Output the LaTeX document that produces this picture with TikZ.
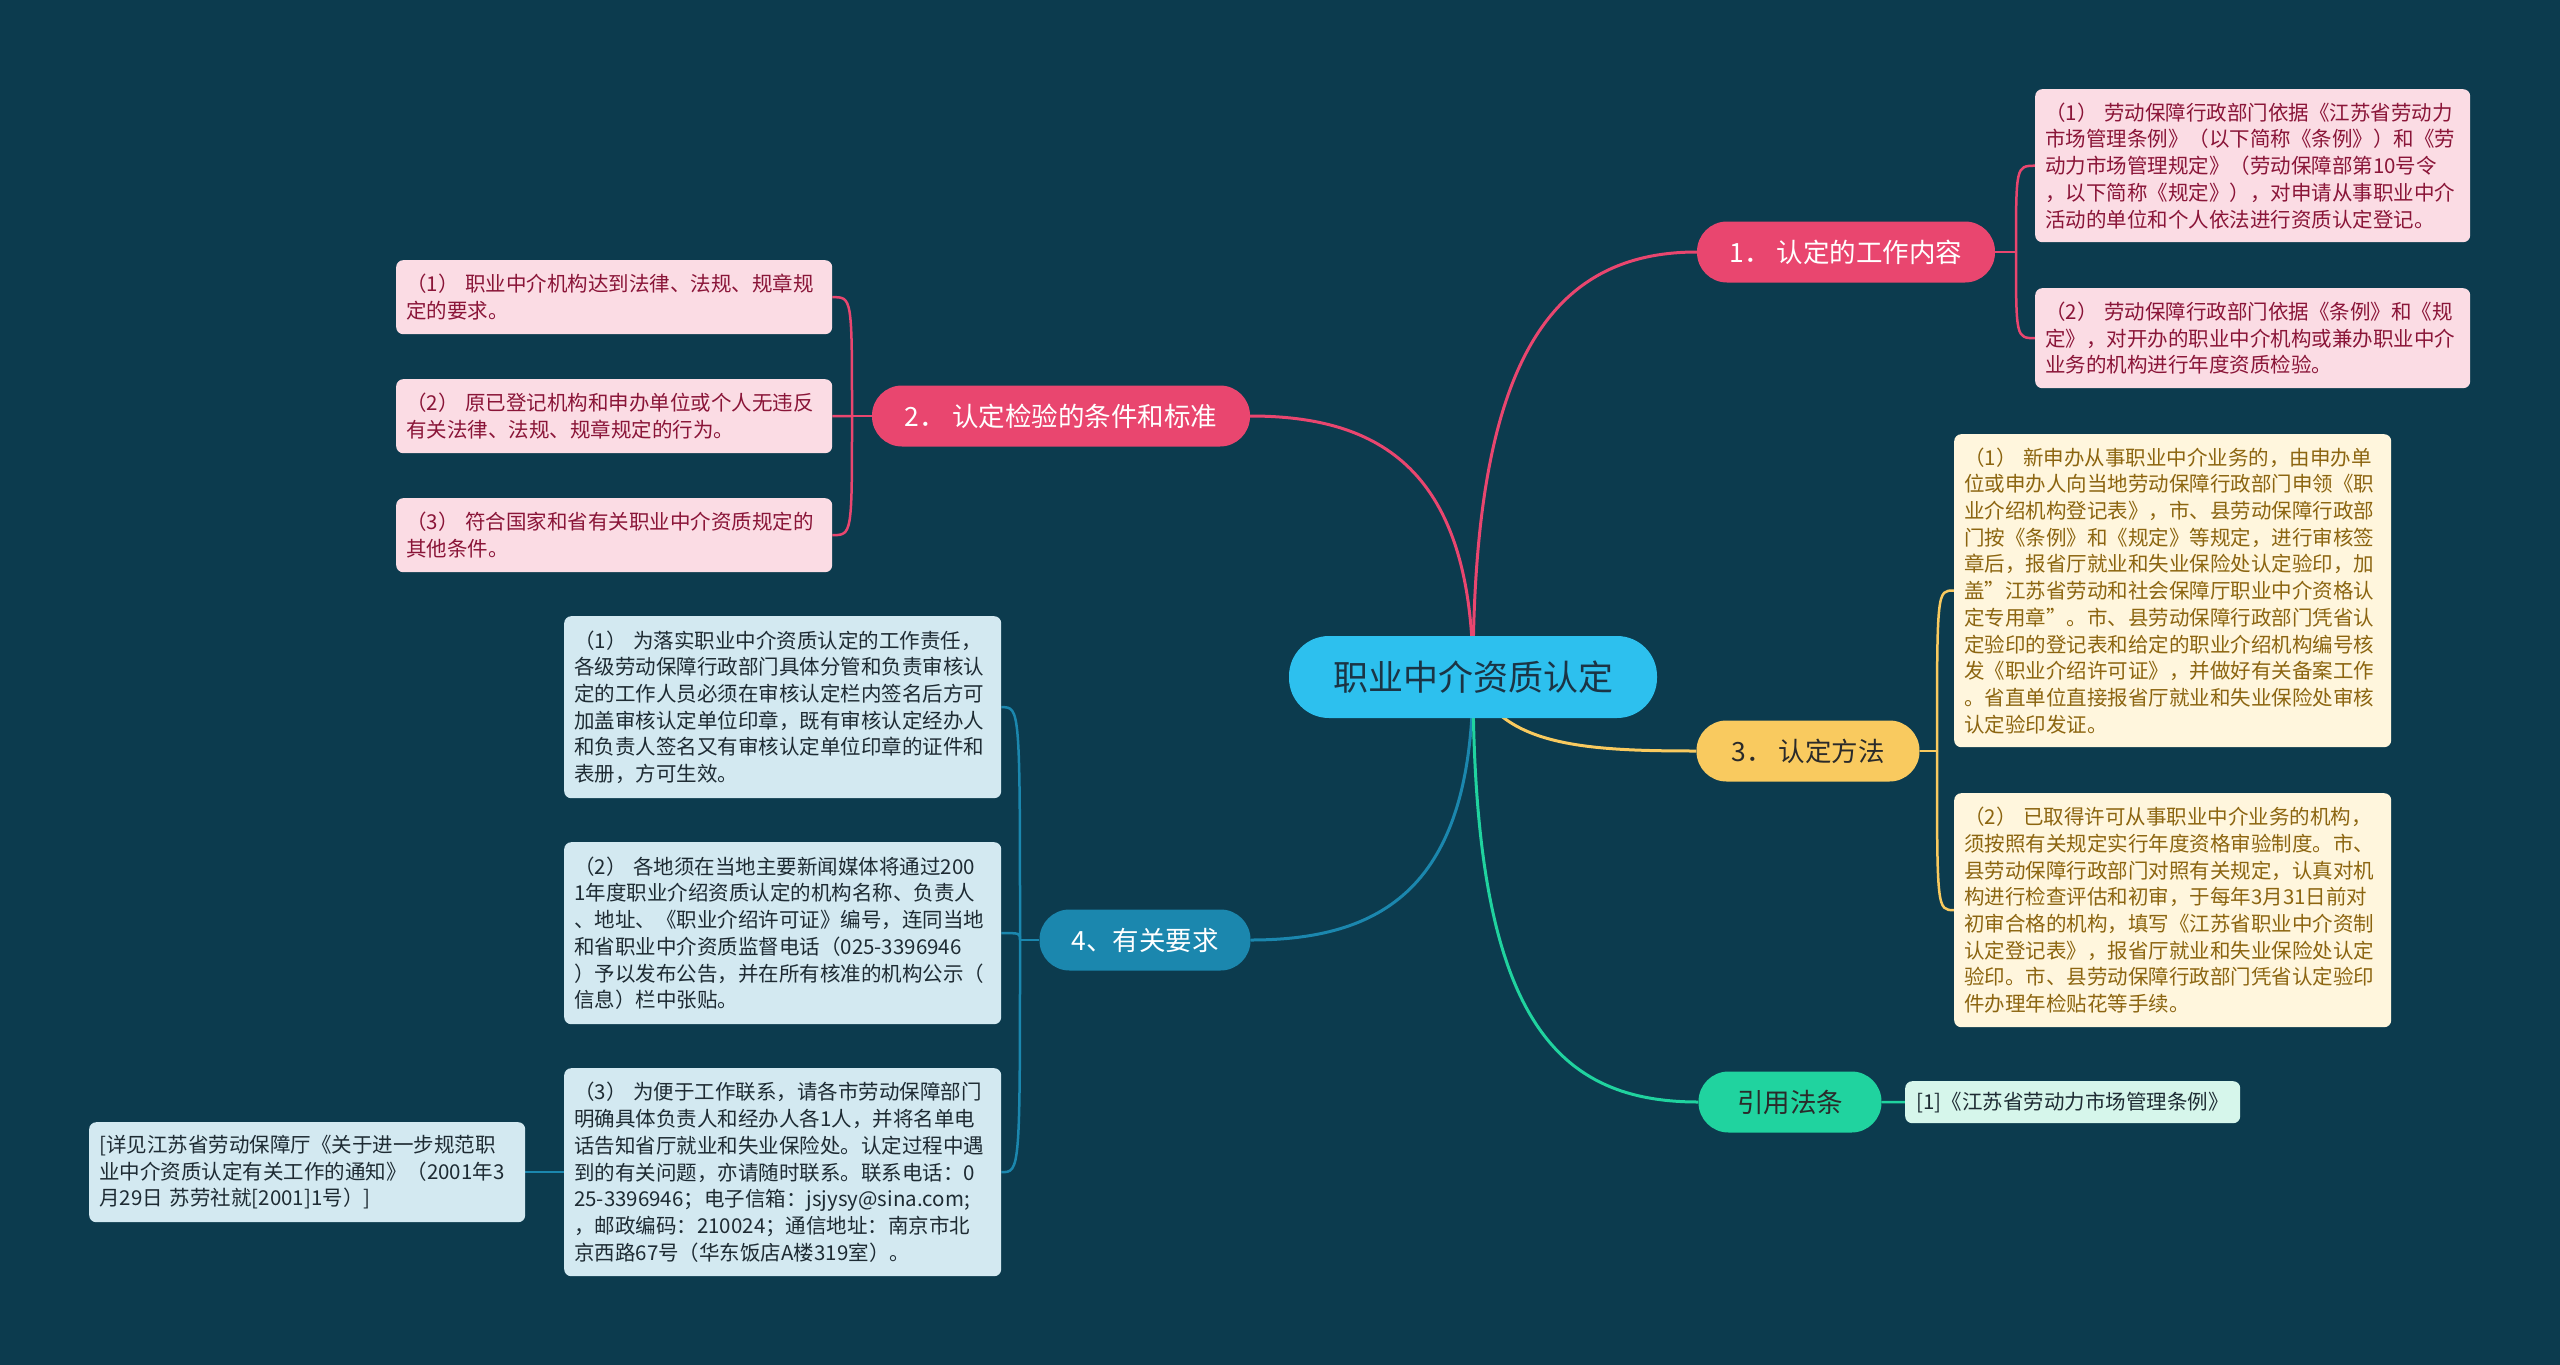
\documentclass[tikz,border=0pt]{standalone}
\usepackage{fontspec}
\setmainfont{Noto Sans CJK SC}
\definecolor{bgc}{HTML}{0C3B4E}
\definecolor{cyanc}{HTML}{2DC0EE}
\definecolor{rootText}{HTML}{1B3445}
\definecolor{redc}{HTML}{E9466F}
\definecolor{yelc}{HTML}{F9CA5F}
\definecolor{bluec}{HTML}{1B87AE}
\definecolor{greenc}{HTML}{20D39F}
\definecolor{pinkleaf}{HTML}{FBDCE4}
\definecolor{creamleaf}{HTML}{FFF6DD}
\definecolor{blueleaf}{HTML}{D3E9F1}
\definecolor{greenleaf}{HTML}{D6F6EB}
\definecolor{pinktext}{HTML}{8A1538}
\definecolor{creamtext}{HTML}{8C6510}
\definecolor{bluetext}{HTML}{1E2B33}
\definecolor{darktext}{HTML}{2A2A2A}
\newcommand{\myleaffont}{\fontsize{20.5}{26.7}\selectfont\exhyphenpenalty=10000 \hyphenpenalty=10000\relax}
\pgfdeclarelayer{bglayer}
\pgfdeclarelayer{edges}
\pgfsetlayers{bglayer,edges,main}
\begin{document}
\begin{tikzpicture}[x=1pt,y=-1pt,
  rootnode/.style={fill=cyanc, text=rootText, rounded corners=40pt, minimum width=368pt, minimum height=82pt, inner sep=0pt, font=\fontsize{35}{42}\selectfont},
  branch/.style={rounded corners=30pt, minimum height=61pt, inner sep=0pt, font=\fontsize{26.5}{32}\selectfont},
  leaf/.style={rounded corners=7pt, anchor=north west, align=left, inner xsep=10pt, inner ysep=0pt, font=\myleaffont},
  pinkbox/.style={leaf, fill=pinkleaf, text=pinktext},
  creambox/.style={leaf, fill=creamleaf, text=creamtext},
  bluebox/.style={leaf, fill=blueleaf, text=bluetext},
  mainlink/.style={line width=3pt},
  sublink/.style={line width=2.5pt}]
\begin{pgfonlayer}{bglayer}
\fill[bgc] (0,0) rectangle (2560,1365);
\end{pgfonlayer}
\useasboundingbox (0,0) rectangle (2560,1365);

% root and branches
\node[rootnode] (root) at (1473,677) {职业中介资质认定};
\node[branch, fill=redc, text=white, minimum width=298pt] (b1) at (1846,252) {1．~认定的工作内容};
\node[branch, fill=redc, text=white, minimum width=378pt] (b2) at (1061,416) {2．~认定检验的条件和标准};
\node[branch, fill=yelc, text=darktext, minimum width=223pt] (b3) at (1808,751) {3．~认定方法};
\node[branch, fill=bluec, text=white, minimum width=211pt] (b4) at (1145,940) {4、有关要求};
\node[branch, fill=greenc, text=darktext, minimum width=183pt] (b5) at (1790,1102) {引用法条};

% leaves of branch 1
\node[pinkbox, text width=415pt, minimum height=153pt] (l1a) at (2035,89) {%
（1）~劳动保障行政部门依据《江苏省劳动力\\
市场管理条例》（以下简称《条例》）和《劳\\
动力市场管理规定》（劳动保障部第10号令\\
，以下简称《规定》），对申请从事职业中介\\
活动的单位和个人依法进行资质认定登记。};
\node[pinkbox, text width=415pt, minimum height=100pt] (l1b) at (2035,288) {%
（2）~劳动保障行政部门依据《条例》和《规\\
定》，对开办的职业中介机构或兼办职业中介\\
业务的机构进行年度资质检验。};

% leaves of branch 3
\node[creambox, text width=417pt, minimum height=313pt] (l3a) at (1954,434) {%
（1）~新申办从事职业中介业务的，由申办单\\
位或申办人向当地劳动保障行政部门申领《职\\
业介绍机构登记表》，市、县劳动保障行政部\\
门按《条例》和《规定》等规定，进行审核签\\
章后，报省厅就业和失业保险处认定验印，加\\
盖"江苏省劳动和社会保障厅职业中介资格认\\
定专用章"。市、县劳动保障行政部门凭省认\\
定验印的登记表和给定的职业介绍机构编号核\\
发《职业介绍许可证》，并做好有关备案工作\\
。省直单位直接报省厅就业和失业保险处审核\\
认定验印发证。};
\node[creambox, text width=417pt, minimum height=234pt] (l3b) at (1954,793) {%
（2）~已取得许可从事职业中介业务的机构，\\
须按照有关规定实行年度资格审验制度。市、\\
县劳动保障行政部门对照有关规定，认真对机\\
构进行检查评估和初审，于每年3月31日前对\\
初审合格的机构，填写《江苏省职业中介资制\\
认定登记表》，报省厅就业和失业保险处认定\\
验印。市、县劳动保障行政部门凭省认定验印\\
件办理年检贴花等手续。};

% leaves of branch 2
\node[pinkbox, text width=416pt, minimum height=74pt] (l2a) at (396,260) {%
（1）~职业中介机构达到法律、法规、规章规\\
定的要求。};
\node[pinkbox, text width=416pt, minimum height=74pt] (l2b) at (396,379) {%
（2）~原已登记机构和申办单位或个人无违反\\
有关法律、法规、规章规定的行为。};
\node[pinkbox, text width=416pt, minimum height=74pt] (l2c) at (396,498) {%
（3）~符合国家和省有关职业中介资质规定的\\
其他条件。};

% leaves of branch 4
\node[bluebox, text width=417pt, minimum height=182pt] (l4a) at (564,616) {%
（1）~为落实职业中介资质认定的工作责任，\\
各级劳动保障行政部门具体分管和负责审核认\\
定的工作人员必须在审核认定栏内签名后方可\\
加盖审核认定单位印章，既有审核认定经办人\\
和负责人签名又有审核认定单位印章的证件和\\
表册，方可生效。};
\node[bluebox, text width=417pt, minimum height=182pt] (l4b) at (564,842) {%
（2）~各地须在当地主要新闻媒体将通过200\\
1年度职业介绍资质认定的机构名称、负责人\\
、地址、《职业介绍许可证》编号，连同当地\\
和省职业中介资质监督电话（025-3396946\\
）予以发布公告，并在所有核准的机构公示（\\
信息）栏中张贴。};
\node[bluebox, text width=417pt, minimum height=208pt] (l4c) at (564,1068) {%
（3）~为便于工作联系，请各市劳动保障部门\\
明确具体负责人和经办人各1人，并将名单电\\
话告知省厅就业和失业保险处。认定过程中遇\\
到的有关问题，亦请随时联系。联系电话：0\\
25-3396946；电子信箱：jsjysy@sina.com;\\
，邮政编码：210024；通信地址：南京市北\\
京西路67号（华东饭店A楼319室）。};
\node[bluebox, text width=416pt, minimum height=100pt] (l4s) at (89,1122) {%
[详见江苏省劳动保障厅《关于进一步规范职\\
业中介资质认定有关工作的通知》（2001年3\\
月29日~苏劳社就[2001]1号）]};

% leaf of branch 5
\node[leaf, fill=greenleaf, text=bluetext, align=center, inner xsep=8pt, minimum width=335pt, minimum height=42pt] (l5a) at (1905,1081) {[1]《江苏省劳动力市场管理条例》};

% connectors
\begin{pgfonlayer}{edges}
\draw[mainlink, redc] (root.center) .. controls (1473,380) and (1540,252) .. (b1.west);
\draw[mainlink, redc] (root.center) .. controls (1473,470) and (1380,416) .. (b2.east);
\draw[mainlink, yelc] (root.center) .. controls (1500,745) and (1580,751) .. (b3.west);
\draw[mainlink, bluec] (root.center) .. controls (1473,880) and (1390,940) .. (b4.east);
\draw[mainlink, greenc] (root.center) .. controls (1473,1010) and (1550,1102) .. (b5.west);

\coordinate (s1) at (2016,252);
\draw[sublink, redc] (b1.east) -- (s1);
\draw[sublink, redc] (s1) .. controls (2016,166) .. (l1a.west);
\draw[sublink, redc] (s1) .. controls (2016,338) .. (l1b.west);

\coordinate (s2) at (852,416);
\draw[sublink, redc] (b2.west) -- (s2);
\draw[sublink, redc] (s2) .. controls (852,297) .. (l2a.east);
\draw[sublink, redc] (s2) -- (l2b.east);
\draw[sublink, redc] (s2) .. controls (852,535) .. (l2c.east);

\coordinate (s3) at (1937,751);
\draw[sublink, yelc] (b3.east) -- (s3);
\draw[sublink, yelc] (s3) .. controls (1937,590) .. (l3a.west);
\draw[sublink, yelc] (s3) .. controls (1937,910) .. (l3b.west);

\coordinate (s4) at (1020,940);
\draw[sublink, bluec] (b4.west) -- (s4);
\draw[sublink, bluec] (s4) .. controls (1020,707) .. (l4a.east);
\draw[sublink, bluec] (s4) .. controls (1020,933) .. (l4b.east);
\draw[sublink, bluec] (s4) .. controls (1020,1172) .. (l4c.east);
\draw[sublink, bluec] (l4c.west) -- (l4s.east);

\draw[sublink, greenc] (b5.east) -- (l5a.west);
\end{pgfonlayer}
\end{tikzpicture}
\end{document}
